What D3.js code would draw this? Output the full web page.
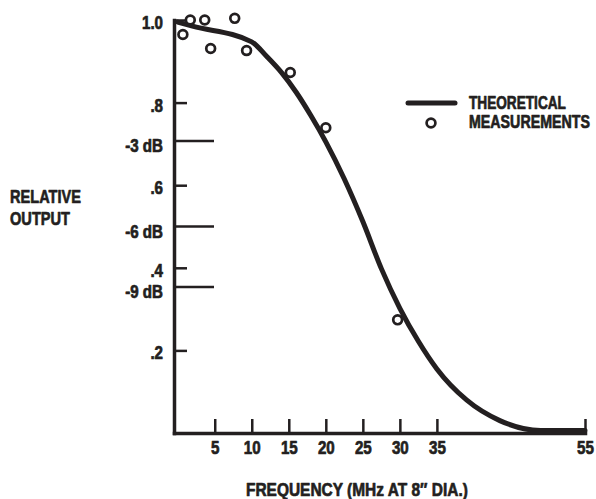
<!DOCTYPE html>
<html>
<head>
<meta charset="utf-8">
<script src="https://cdn.jsdelivr.net/npm/d3@7/dist/d3.min.js"></script>
<style>
  html, body { margin: 0; padding: 0; background: #fff; }
  svg { display: block; }
  text { font-family: "Liberation Sans", Arial, sans-serif; font-weight: bold; fill: #231f20;
         stroke: #231f20; stroke-width: 0.7px; stroke-linejoin: round; }
</style>
</head>
<body>
<svg id="chart" width="596" height="499"></svg>
<script>
// Frequency response of the pickup: theoretical curve and measured points
const xTickValues = [5, 10, 15, 20, 25, 30, 35, 55];
const yTickValues = [0.2, 0.4, 0.6, 0.8, 1.0];
const yTickLabels = [".2", ".4", ".6", ".8", "1.0"];
const dbTickValues = [-3, -6, -9];

const theoryFreq  = [0, 2, 10, 12, 14, 16, 18, 20, 22.5, 25, 27.5, 30, 32.5, 35, 39, 43.5, 49, 55];
const theoryValue = [0.995, 0.985, 0.947, 0.912, 0.873, 0.825, 0.768, 0.705, 0.615, 0.512, 0.398, 0.302, 0.222, 0.155, 0.08, 0.03, 0.006, 0.006];

const measFreq  = [0.7, 1.7, 3.65, 4.45, 7.7, 9.3, 15.2, 20.0, 29.7];
const measValue = [0.965, 1.0, 1.0, 0.931, 1.004, 0.926, 0.873, 0.739, 0.274];

const ink = "#231f20";
const svg = d3.select("#chart");

const x = d3.scaleLinear().domain([-0.5, 55]).range([174, 585]);
const y = d3.scaleLinear().domain([0, 1]).range([433, 20]);

// narrow the bold face so it reads like a condensed gothic
function condense(sel, factor) {
  sel.each(function () {
    const w = this.getComputedTextLength();
    d3.select(this).attr("textLength", w * factor).attr("lengthAdjust", "spacingAndGlyphs");
  });
}
// squeeze a free-standing label horizontally to a given width
function fitWidth(sel, width) {
  sel.each(function () {
    const t = d3.select(this);
    const w = this.getComputedTextLength();
    const tx = +t.attr("x"), ty = +t.attr("y");
    t.attr("x", 0).attr("y", 0)
      .attr("transform", `translate(${tx},${ty}) scale(${width / w},1)`);
  });
}

// y axis: relative output (short ticks pointing inward)
const yAxis = svg.append("g")
  .attr("transform", `translate(${x.range()[0]},0)`)
  .call(d3.axisLeft(y).tickValues(yTickValues)
    .tickFormat((d, i) => yTickLabels[i])
    .tickSizeInner(-13).tickSizeOuter(0).tickPadding(11));

// dB reference ticks (longer), placed at 10^(dB/20)
const dbAxis = svg.append("g")
  .attr("transform", `translate(${x.range()[0]},0)`)
  .call(d3.axisLeft(y).tickValues(dbTickValues.map(d => Math.pow(10, d / 20)))
    .tickFormat((d, i) => `${dbTickValues[i]} dB`)
    .tickSizeInner(-40).tickSizeOuter(0).tickPadding(11));
dbAxis.select(".domain").remove();

// x axis: frequency, ticks pointing up
const xAxis = svg.append("g")
  .attr("transform", `translate(0,${y(0)})`)
  .call(d3.axisBottom(x).tickValues(xTickValues)
    .tickSizeInner(-14).tickSizeOuter(0).tickPadding(8));

[yAxis, dbAxis, xAxis].forEach(g => {
  g.attr("font-family", null).attr("font-size", null);
  g.selectAll(".domain").attr("stroke", ink).attr("stroke-width", 3.5).attr("stroke-linecap", "square");
  g.selectAll(".tick line").attr("stroke", ink).attr("stroke-width", 2.5);
  g.selectAll(".tick text").style("font-size", "18px").attr("fill", ink);
  condense(g.selectAll(".tick text"), 0.84);
});
yAxis.selectAll(".tick text").attr("dy", "0.47em");
dbAxis.selectAll(".tick text").attr("dy", "0.62em");

// theoretical response
const line = d3.line()
  .x((d, i) => x(theoryFreq[i]))
  .y(d => y(d))
  .curve(d3.curveMonotoneX);

svg.append("path")
  .datum(theoryValue)
  .attr("d", line)
  .attr("fill", "none")
  .attr("stroke", ink)
  .attr("stroke-width", 5)
  .attr("stroke-linecap", "round")
  .attr("stroke-linejoin", "round");

// measurements
svg.append("g").selectAll("circle")
  .data(measValue)
  .join("circle")
  .attr("cx", (d, i) => x(measFreq[i]))
  .attr("cy", d => y(d))
  .attr("r", 4.4)
  .attr("fill", "#fff")
  .attr("stroke", ink)
  .attr("stroke-width", 2.7);

// legend
const legend = svg.append("g");
legend.append("line")
  .attr("x1", 408).attr("x2", 455).attr("y1", 103).attr("y2", 103)
  .attr("stroke", ink).attr("stroke-width", 5).attr("stroke-linecap", "round");
legend.append("circle")
  .attr("cx", 431).attr("cy", 123).attr("r", 4.4)
  .attr("fill", "#fff").attr("stroke", ink).attr("stroke-width", 2.7);
fitWidth(legend.append("text").attr("x", 469).attr("y", 109).style("font-size", "18px").text("THEORETICAL"), 97);
fitWidth(legend.append("text").attr("x", 469).attr("y", 128).style("font-size", "18px").text("MEASUREMENTS"), 121);

// axis titles
fitWidth(svg.append("text").attr("x", 10).attr("y", 203).style("font-size", "19px").text("RELATIVE"), 71);
fitWidth(svg.append("text").attr("x", 10).attr("y", 225).style("font-size", "19px").text("OUTPUT"), 60);
fitWidth(svg.append("text").attr("x", 246).attr("y", 496)
  .style("font-size", "19px").text("FREQUENCY (MHz AT 8\u2033 DIA.)"), 222);
</script>
</body>
</html>
